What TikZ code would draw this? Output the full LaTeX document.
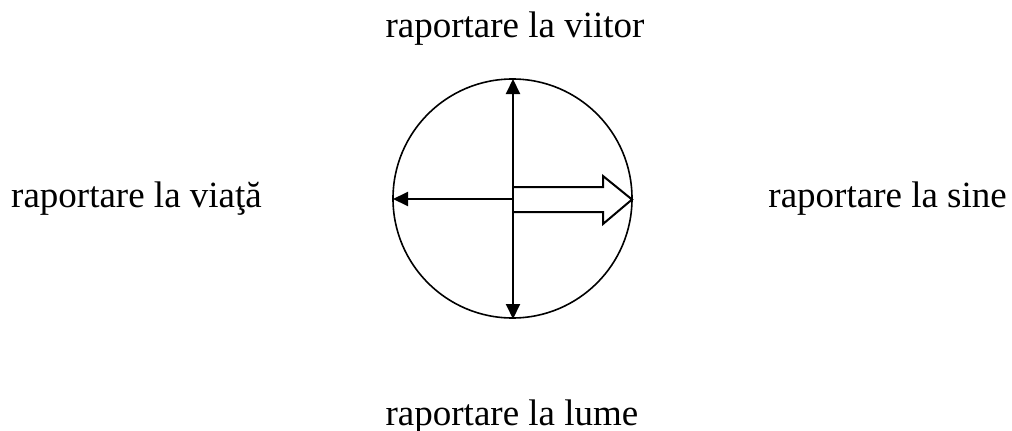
\documentclass[tikz,border=0pt]{standalone}
\usepackage{fontspec}
\setmainfont{Liberation Serif}
\usetikzlibrary{arrows.meta}
\begin{document}
\begin{tikzpicture}[x=1pt,y=-1pt,
  lbl/.style={font=\fontsize{37}{42}\selectfont, inner sep=0pt},
  ln/.style={line width=2pt},
  tip/.style={-{Triangle[length=15pt,width=14pt]}}]
\useasboundingbox (0,0) rectangle (1012,431);
\node[circle, draw, line width=1.6pt, minimum size=239pt, inner sep=0pt] (c) at (512.5,198.5) {};
\coordinate (ctr) at (513,199);
\coordinate (top) at (513,79);
\coordinate (bot) at (513,319);
\coordinate (left) at (393,199);
\draw[ln, tip] (ctr) -- (top);
\draw[ln, tip] (ctr) -- (bot);
\draw[ln, tip] (ctr) -- (left);
\draw[ln, line join=miter] (513,187) -- (603,187) -- (603,176) -- (632,199.5) -- (603,224) -- (603,212) -- (513,212);
\node[lbl, anchor=base] (n1) at (515,37) {raportare la viitor};
\node[lbl, anchor=base west] (n2) at (11,207) {raportare la viaţă};
\node[lbl, anchor=base east] (n3) at (1007,207) {raportare la sine};
\node[lbl, anchor=base] (n4) at (512,425) {raportare la lume};
\end{tikzpicture}
\end{document}
